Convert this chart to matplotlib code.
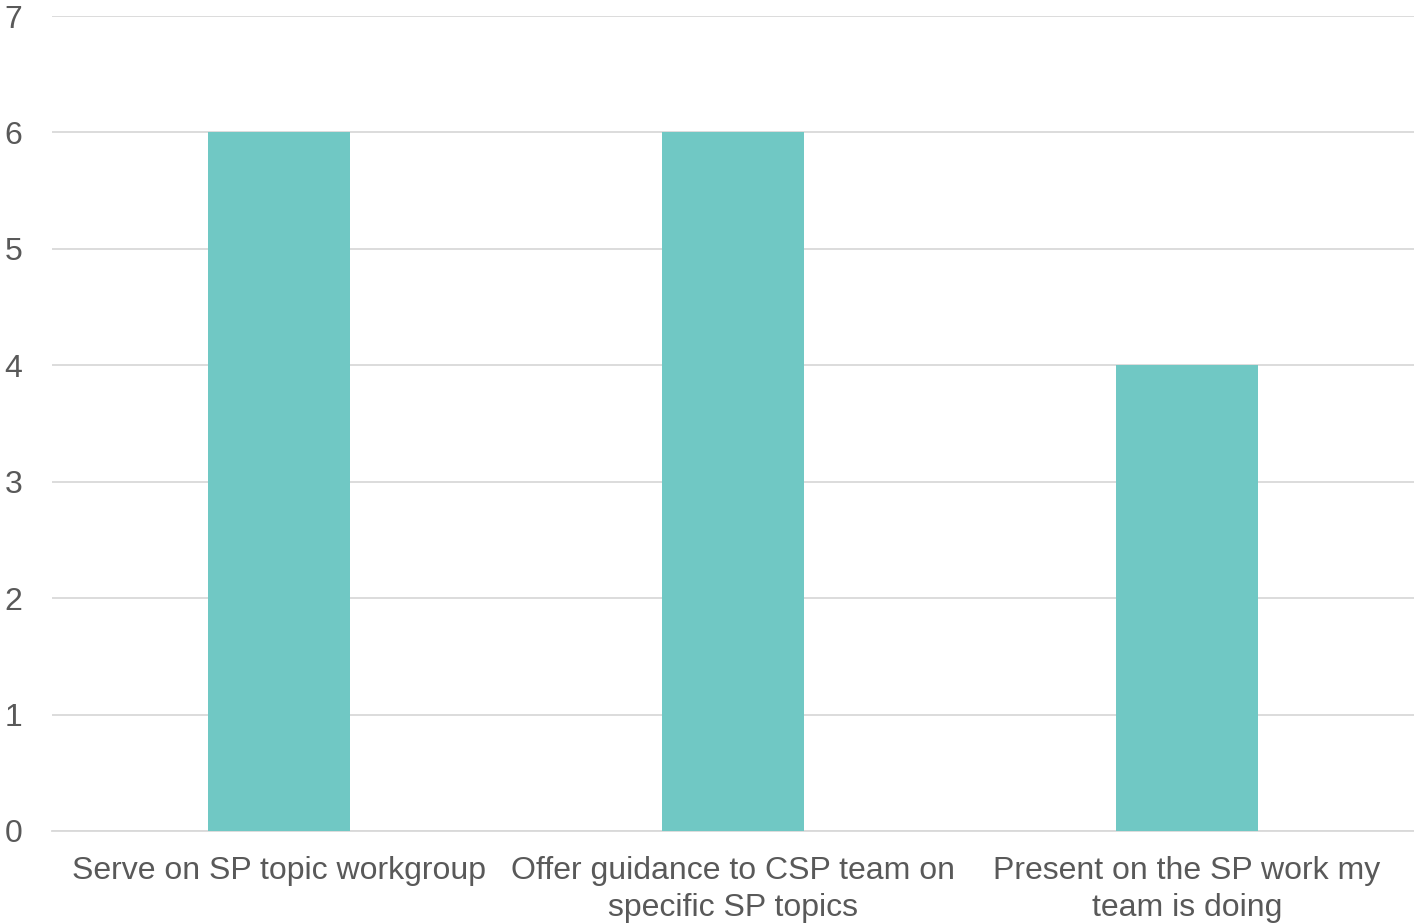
import matplotlib.pyplot as plt

categories = [
    "Serve on SP topic workgroup",
    "Offer guidance to CSP team on\nspecific SP topics",
    "Present on the SP work my\nteam is doing",
]
counts = [6, 6, 4]
y_ticks = [0, 1, 2, 3, 4, 5, 6, 7]

plt.rcParams['font.family'] = ['Liberation Sans', 'DejaVu Sans']

fig = plt.figure(figsize=(14.14, 9.24), dpi=100)
ax = fig.add_axes([52 / 1414, 93 / 924, 1362 / 1414, 815 / 924])

x = range(len(categories))
ax.bar(x, counts, width=0.313, color='#70C8C4', zorder=3)

ax.set_xlim(-0.5, len(categories) - 0.5)
ax.set_ylim(0, 7)
ax.set_yticks(y_ticks)
ax.set_xticks(list(x))
ax.set_xticklabels(categories, linespacing=1.31)
ax.tick_params(axis='both', length=0, labelsize=23, colors='#595959')
ax.tick_params(axis='y', pad=21.5)
ax.tick_params(axis='x', pad=18)

ax.grid(axis='y', color='#D9D9D9', linewidth=1.3, zorder=0)
for side in ['top', 'right', 'left']:
    ax.spines[side].set_visible(False)
ax.spines['bottom'].set_color('#D9D9D9')
ax.spines['bottom'].set_linewidth(1.3)

fig.savefig('out.png', dpi=100)
